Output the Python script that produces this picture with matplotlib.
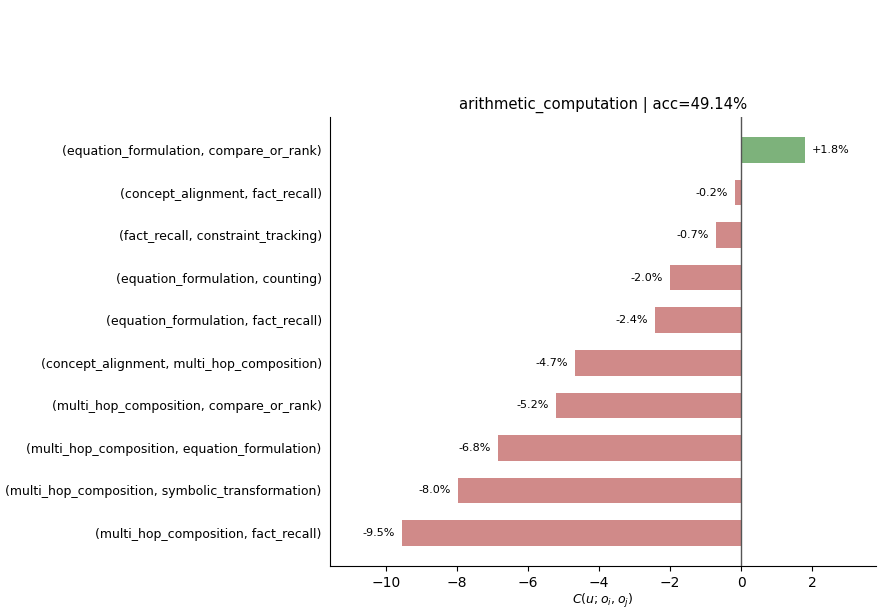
import numpy as np
import matplotlib
matplotlib.use("Agg")
import matplotlib.pyplot as plt

# --- Data ---
pairs = [
    "(multi_hop_composition, fact_recall)",
    "(multi_hop_composition, symbolic_transformation)",
    "(multi_hop_composition, equation_formulation)",
    "(multi_hop_composition, compare_or_rank)",
    "(concept_alignment, multi_hop_composition)",
    "(equation_formulation, fact_recall)",
    "(equation_formulation, counting)",
    "(fact_recall, constraint_tracking)",
    "(concept_alignment, fact_recall)",
    "(equation_formulation, compare_or_rank)",
]
values = [-9.54, -7.97, -6.85, -5.21, -4.68, -2.42, -2.0, -0.70, -0.17, 1.80]
title = "arithmetic_computation | acc=49.14%"

POS_COLOR = "#7db27b"
NEG_COLOR = "#d08a89"

fig = plt.figure(figsize=(8.84, 6.12), dpi=100)
ax = fig.add_axes([330 / 884, 1 - 566 / 612, (876 - 330) / 884, (566 - 117) / 612])

y = np.arange(len(pairs))
colors = [POS_COLOR if v > 0 else NEG_COLOR for v in values]
ax.barh(y, values, height=0.6, color=colors)
ax.axvline(0, color="#555555", lw=1)

for yi, v in zip(y, values):
    if v > 0:
        ax.text(v + 0.2, yi, f"+{v:.1f}%", va="center", ha="left", fontsize=8)
    else:
        ax.text(v - 0.2, yi, f"{v:.1f}%", va="center", ha="right", fontsize=8)

ax.set_yticks(y)
ax.set_yticklabels(pairs, fontsize=9)
ax.tick_params(axis="y", length=0, pad=6)
ax.set_xlim(-11.58, 3.8)
ax.set_xticks([-10, -8, -6, -4, -2, 0, 2])
ax.set_xlabel("$C(u; o_i, o_j)$", fontsize=9, labelpad=2)
ax.set_title(title, fontsize=10.7)
ax.spines["top"].set_visible(False)
ax.spines["right"].set_visible(False)

fig.savefig("out.png", dpi=100)
